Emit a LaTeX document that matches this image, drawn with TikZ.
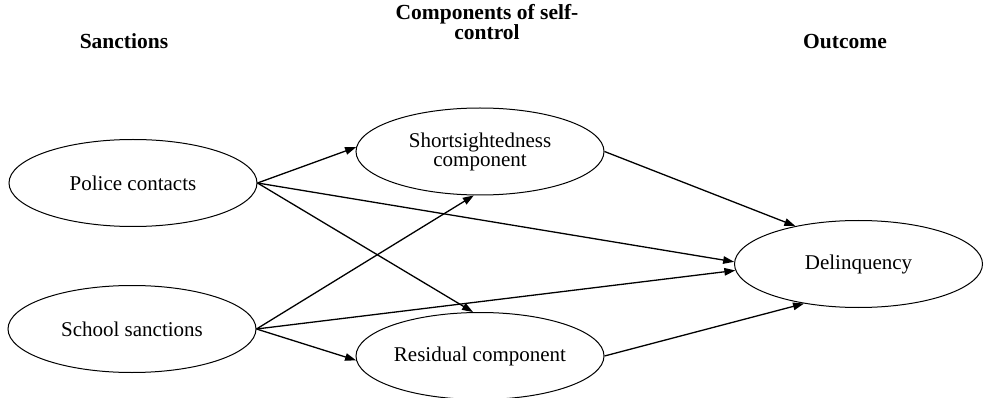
\documentclass[tikz,border=0pt]{standalone}
\usepackage{fontspec}
\setmainfont{Liberation Serif}
\usetikzlibrary{shapes.geometric,arrows.meta}
\begin{document}
\begin{tikzpicture}[x=1pt,y=-1pt,
  every node/.style={font=\fontsize{21}{19}\selectfont},
  oval/.style={draw, line width=1pt, ellipse, minimum width=248pt, minimum height=87pt, inner sep=0pt, align=center},
  head/.style={font=\fontsize{21.5}{19}\selectfont\bfseries, align=center},
  arr/.style={line width=1.3pt, -{Triangle[length=11pt,width=7.5pt]}}]
\useasboundingbox (0,0) rectangle (985,398);
\node[head] (h1) at (124,41) {Sanctions};
\node[head] (h2) at (487,22) {Components of self-\\control};
\node[head] (h3) at (845,42) {Outcome};
\node[oval] (pol) at (133,183) {Police contacts};
\node[oval] (sch) at (132,329) {School sanctions};
\node[oval] (ss) at (480,151.5) {Shortsightedness\\component};
\node[oval] (res) at (480,356) {Residual component};
\node[oval] (del) at (858.5,264) {Delinquency};
\draw[arr] (pol.east) -- (ss.178);
\draw[arr] (pol.east) -- (del.179);
\draw[arr] (pol.east) -- (res.99);
\draw[arr] (sch.east) -- (ss.262);
\draw[arr] (sch.east) -- (del.183);
\draw[arr] (sch.east) -- (res.182);
\draw[arr] (ss.east) -- (del.149);
\draw[arr] (res.east) -- (del.216);
\end{tikzpicture}
\end{document}
